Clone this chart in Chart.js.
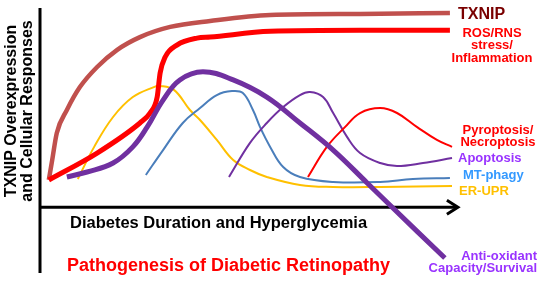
<!DOCTYPE html>
<html>
<head>
<meta charset="utf-8">
<script src="https://cdn.jsdelivr.net/npm/chart.js@4"></script>
<style>
    html, body { margin: 0; padding: 0; background: #fff; }
    #wrap { width: 540px; height: 281px; }
</style>
</head>
<body>
<div id="wrap"><canvas id="chart" width="540" height="281"></canvas></div>
<script>
// x = diabetes duration (arbitrary units 0-100), y = relative response level
const txnipX = [2.1, 2.9, 4.0, 6.4, 9.5, 13.6, 18.3, 23.8, 31.0, 40.5, 54.8, 76.2, 97.6];
const txnipY = [13.7, 23.7, 37.3, 48.8, 60.3, 70.4, 78.9, 85.4, 90.5, 93.5, 96.5, 97.0, 97.5];

const rosX = [2.1, 13.6, 23.8, 26.2, 27.9, 28.6, 29.8, 32.6, 37.4, 40.5, 54.8, 76.2, 97.6];
const rosY = [13.7, 27.2, 42.3, 47.3, 55.3, 67.4, 75.4, 81.4, 84.9, 85.4, 88.3, 88.8, 88.8];

const antiX = [6.4, 11.2, 17.4, 22.1, 25.5, 29.3, 33.3, 38.8, 46.0, 54.0, 61.9, 69.8, 77.9, 83.3, 96.4];
const antiY = [15.2, 17.7, 22.2, 30.3, 40.2, 53.8, 63.9, 68.0, 63.9, 55.3, 42.3, 28.7, 12.2, 1.1, -25.5];

const erX = [9.0, 12.9, 17.4, 22.1, 27.1, 28.6, 31.9, 35.7, 38.1, 42.1, 46.0, 50.0, 54.0, 61.9, 69.8, 81.0, 98.1];
const erY = [14.2, 30.3, 45.3, 55.3, 60.3, 60.9, 58.9, 48.8, 43.8, 33.8, 23.7, 18.7, 15.2, 11.2, 10.2, 10.2, 10.7];

const mtX = [25.2, 29.3, 34.0, 38.1, 42.1, 45.7, 48.3, 50.7, 52.4, 54.8, 57.9, 61.9, 69.8, 81.0, 88.8, 97.6];
const mtY = [16.2, 28.7, 42.3, 49.8, 56.3, 58.3, 57.3, 48.8, 40.2, 30.3, 20.2, 15.2, 12.7, 12.7, 14.2, 14.7];

const apopX = [45.0, 50.0, 54.0, 57.9, 61.9, 64.3, 67.4, 69.8, 73.1, 76.2, 81.0, 85.0, 91.2, 98.1];
const apopY = [15.2, 32.3, 42.3, 50.3, 56.3, 57.8, 55.3, 47.3, 35.3, 27.2, 22.2, 20.7, 22.2, 24.7];

const pyroX = [63.8, 68.3, 72.6, 76.2, 81.0, 85.0, 89.8, 94.5, 98.1];
const pyroY = [15.2, 30.3, 40.2, 47.3, 49.8, 47.3, 40.2, 33.8, 30.3];

const xTitle = 'Diabetes Duration and Hyperglycemia';
const yTitle = ['TXNIP Overexpression', 'and Cellular Responses'];
const mainTitle = 'Pathogenesis of Diabetic Retinopathy';

const FONT = '"Liberation Sans", Arial, sans-serif';

function pts(xs, ys) {
    return xs.map((x, i) => ({ x: x, y: ys[i] }));
}

function series(label, xs, ys, color, width, monotone) {
    const ds = {
        label: label,
        data: pts(xs, ys),
        borderColor: color,
        borderWidth: width,
        borderCapStyle: 'butt',
        borderJoinStyle: 'round',
        pointRadius: 0,
        fill: false,
        tension: 0.4,
        clip: false
    };
    if (monotone) ds.cubicInterpolationMode = 'monotone';
    return ds;
}

// curve end labels, drawn to the right of the arrow
const endLabels = [
    { lines: ['TXNIP'], color: '#7a0000', size: 16, x: 458, y: 15, align: 'left' },
    { lines: ['ROS/RNS', 'stress/', 'Inflammation'], color: '#ff0000', size: 13, x: 492, y: 33, align: 'center' },
    { lines: ['Pyroptosis/', 'Necroptosis'], color: '#ff0000', size: 13, x: 498, y: 130, align: 'center' },
    { lines: ['Apoptosis'], color: '#9933ff', size: 13, x: 458, y: 158, align: 'left' },
    { lines: ['MT-phagy'], color: '#3399ff', size: 13, x: 463, y: 175, align: 'left' },
    { lines: ['ER-UPR'], color: '#ffc000', size: 13, x: 459, y: 191, align: 'left' },
    { lines: ['Anti-oxidant', 'Capacity/Survival'], color: '#9933ff', size: 13, x: 537, y: 256, align: 'right' }
];

const overlay = {
    id: 'overlay',
    beforeDatasetsDraw(chart) {
        const ctx = chart.ctx;
        const xs = chart.scales.x, ys = chart.scales.y;
        const x0 = xs.getPixelForValue(0);
        const y0 = ys.getPixelForValue(0);
        const xEnd = xs.getPixelForValue(99.5);
        ctx.save();
        ctx.strokeStyle = '#000';
        ctx.lineWidth = 3;
        ctx.lineCap = 'butt';
        // y axis
        ctx.beginPath();
        ctx.moveTo(x0, chart.chartArea.top);
        ctx.lineTo(x0, chart.chartArea.bottom - 2);
        ctx.stroke();
        // x axis with open arrow head
        ctx.beginPath();
        ctx.moveTo(x0, y0);
        ctx.lineTo(xEnd - 1, y0);
        ctx.stroke();
        ctx.lineJoin = 'miter';
        ctx.beginPath();
        ctx.moveTo(xEnd - 11, y0 - 7);
        ctx.lineTo(xEnd, y0);
        ctx.lineTo(xEnd - 11, y0 + 7);
        ctx.stroke();
        ctx.restore();
    },
    afterDraw(chart) {
        const ctx = chart.ctx;
        ctx.save();
        ctx.textBaseline = 'middle';

        // y axis title
        ctx.fillStyle = '#000';
        ctx.font = 'bold 16px ' + FONT;
        ctx.textAlign = 'center';
        ctx.save();
        ctx.translate(12, 111);
        ctx.rotate(-Math.PI / 2);
        ctx.fillText(yTitle[0], 0, 0);
        ctx.fillText(yTitle[1], 0, 16);
        ctx.restore();

        // x axis title
        ctx.textAlign = 'left';
        ctx.font = 'bold 16.5px ' + FONT;
        ctx.fillText(xTitle, 70, 223);

        // main title
        ctx.fillStyle = '#ff0000';
        ctx.font = 'bold 18px ' + FONT;
        ctx.fillText(mainTitle, 67, 266);

        endLabels.forEach(lab => {
            ctx.fillStyle = lab.color;
            ctx.font = 'bold ' + lab.size + 'px ' + FONT;
            ctx.textAlign = lab.align;
            lab.lines.forEach((t, i) => {
                ctx.fillText(t, lab.x, lab.y + i * 12.5);
            });
        });
        ctx.restore();
    }
};

new Chart(document.getElementById('chart'), {
    type: 'line',
    data: {
        datasets: [
            series('Anti-oxidant Capacity/Survival', antiX, antiY, '#7030a0', 5, false),
            series('ROS/RNS stress/Inflammation', rosX, rosY, '#ff0000', 5, true),
            series('TXNIP', txnipX, txnipY, '#c0504d', 4.5, true),
            series('Pyroptosis/Necroptosis', pyroX, pyroY, '#ff0000', 2, false),
            series('Apoptosis', apopX, apopY, '#7030a0', 2, false),
            series('MT-phagy', mtX, mtY, '#4a7ebb', 2, false),
            series('ER-UPR', erX, erY, '#ffc000', 2, false)
        ]
    },
    options: {
        responsive: false,
        animation: false,
        layout: { padding: { left: 40, right: 80, top: 8, bottom: 6 } },
        plugins: {
            legend: { display: false },
            tooltip: { enabled: false }
        },
        scales: {
            x: { type: 'linear', min: 0, max: 100, display: false },
            y: { type: 'linear', min: -34, max: 100, display: false }
        }
    },
    plugins: [overlay]
});
</script>
</body>
</html>
